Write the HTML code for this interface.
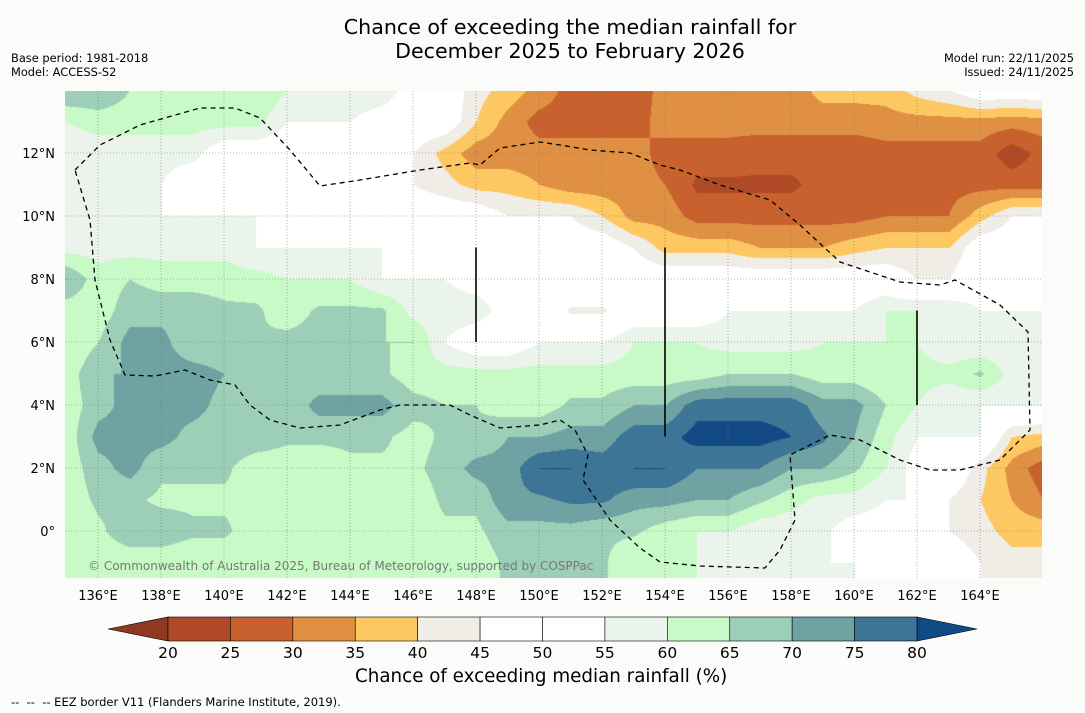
<!DOCTYPE html>
<html><head><meta charset="utf-8"><style>
body{margin:0;background:#fbfcfa;font-family:"DejaVu Sans",sans-serif;}
#wrap{position:relative;width:1085px;height:713px;overflow:hidden;background:#fbfcfa}
.t{position:absolute;color:#000;white-space:nowrap}
canvas{position:absolute;left:65px;top:91px}
svg{position:absolute;left:0;top:0}
</style></head><body>
<div id="wrap">
<div class="t" style="left:0;width:1140px;text-align:center;top:15px;font-size:20.6px;line-height:24px">Chance of exceeding the median rainfall for<br>December 2025 to February 2026</div>
<div class="t" style="left:11px;top:51px;font-size:11.4px;line-height:14px">Base period: 1981-2018<br>Model: ACCESS-S2</div>
<div class="t" style="right:11px;top:51px;font-size:11.4px;line-height:14px;text-align:right">Model run: 22/11/2025<br>Issued: 24/11/2025</div>
<canvas id="map" width="977" height="487"></canvas>
<svg id="ov" width="1085" height="713"></svg>
<div class="t" style="left:355px;top:666px;font-size:18.3px">Chance of exceeding median rainfall (%)</div>
<div class="t" style="left:11px;top:695px;font-size:11.5px">-- &nbsp;-- &nbsp;-- EEZ border V11 (Flanders Marine Institute, 2019).</div>
</div>
<script>
const lons=[135,136,137,138,139,140,141,142,143,144,145,146,147,148,149,150,151,152,153,154,155,156,157,158,159,160,161,162,163,164,165,166];
const lats=[14,13,12,11,10,9,8,7,6,5,4,3,2,1,0,-1,-2];
const grid=[
[70,70,65,65,65,65,65,60,60,60,60,50,50,42,38,33,28,27,27,32,32,32,32,32,37,37,37,42,45,50,50,50],
[60,62,62,62,62,62,62,55,55,55,50,50,50,40,33,28,28,28,28,32,32,32,32,32,32,32,33,33,33,33,32,33],
[57,57,57,57,57,50,50,50,50,50,50,45,38,32,32,32,32,32,32,28,28,28,27,27,27,27,28,28,28,28,22,27],
[55,55,55,55,50,50,50,50,50,50,50,45,42,38,38,35,32,32,32,30,24,24,24,24,27,27,27,28,28,28,28,28],
[55,55,55,55,55,55,55,52,52,52,50,50,50,50,45,45,45,40,33,33,28,28,28,28,28,28,30,30,30,38,45,45],
[58,58,58,58,58,58,55,55,55,55,55,50,50,50,50,50,50,50,45,38,38,38,35,35,35,38,40,40,40,50,50,50],
[70,62,65,63,63,63,62,60,60,60,55,55,55,52,52,52,52,52,50,50,50,50,50,50,50,50,50,45,45,52,52,52],
[62,62,68,68,68,66,66,62,66,66,66,58,58,58,52,52,44,44,50,50,50,55,55,55,55,55,60,60,60,55,55,55],
[60,65,72,72,65,65,65,67,67,67,65,65,55,50,50,55,55,55,60,60,60,58,58,58,60,60,60,60,55,55,55,55],
[62,70,70,73,73,70,66,66,66,66,66,62,62,62,62,62,62,62,62,62,62,65,65,65,62,62,60,62,62,66,58,58],
[62,68,72,72,72,68,68,66,72,72,72,67,65,65,62,62,66,66,70,70,78,78,78,78,72,72,65,60,55,55,55,55],
[62,72,72,72,68,68,68,66,66,66,66,63,66,66,70,70,72,72,78,78,82,82,82,80,76,70,62,55,55,55,40,38],
[62,68,72,66,66,66,62,62,62,64,64,64,67,72,72,80,80,78,80,80,75,75,75,70,70,66,60,52,52,42,33,27],
[62,66,66,64,64,64,64,62,62,62,62,62,66,66,74,74,76,76,72,72,70,70,66,62,58,58,55,55,45,40,35,30],
[60,64,68,68,66,66,62,62,62,62,62,62,64,64,68,68,68,66,66,62,60,60,56,56,56,52,52,52,45,42,38,38],
[62,62,62,62,61,61,61,61,60,60,60,62,62,62,66,66,66,66,60,60,60,55,55,55,55,55,50,50,50,45,42,42],
[62,62,62,62,61,61,61,61,60,60,60,62,62,62,66,66,66,66,60,60,60,55,55,55,55,55,50,50,50,45,42,42]];
const levels=[20,25,30,35,40,45,50,55,60,65,70,75,80];
const colors=["#8e3a22","#b04a26","#c8612e","#df9042","#fdc862","#f0ece6","#ffffff","#ffffff","#eaf4ea","#c8fac8","#9dcfb8","#6fa3a3","#3c7595","#124a85"];
const xTicks=[136,138,140,142,144,146,148,150,152,154,156,158,160,162,164];
const yTicks=[0,2,4,6,8,10,12];
const X=lon=>98+(lon-136)*31.5, Y=lat=>531-lat*31.5;
const cv=document.getElementById('map'),ctx=cv.getContext('2d');
const img=ctx.createImageData(977,487);
function hex(c){return[parseInt(c.substr(1,2),16),parseInt(c.substr(3,2),16),parseInt(c.substr(5,2),16)];}
const rgb=colors.map(hex);
for(let py=0;py<487;py++){
 const lat=(531-(py+91))/31.5;
 let fr=(lats[0]-lat);let r0=Math.max(0,Math.min(lats.length-2,Math.floor(fr)));let ty=Math.max(0,Math.min(1,fr-r0));
 for(let px=0;px<977;px++){
  const lon=136+((px+65)-98)/31.5;
  let fc=lon-lons[0];let c0=Math.max(0,Math.min(lons.length-2,Math.floor(fc)));let tx=Math.max(0,Math.min(1,fc-c0));
  const v=(grid[r0][c0]*(1-tx)+grid[r0][c0+1]*tx)*(1-ty)+(grid[r0+1][c0]*(1-tx)+grid[r0+1][c0+1]*tx)*ty;
  let i=0;while(i<levels.length&&v>=levels[i])i++;
  const c=rgb[i],k=(py*977+px)*4;img.data[k]=c[0];img.data[k+1]=c[1];img.data[k+2]=c[2];img.data[k+3]=255;
 }}
ctx.putImageData(img,0,0);
const ns="http://www.w3.org/2000/svg",svg=document.getElementById('ov');
function el(t,a){const e=document.createElementNS(ns,t);for(const k in a)e.setAttribute(k,a[k]);svg.appendChild(e);return e;}
xTicks.forEach(l=>{const g=el('line',{x1:X(l),x2:X(l),y1:91,y2:578,stroke:'#777','stroke-width':0.6,'stroke-dasharray':'1,2'});


const t=el('text',{x:X(l),y:600,'font-size':13,'text-anchor':'middle','font-family':'DejaVu Sans'});t.textContent=l+'°E';

});
yTicks.forEach(l=>{const g=el('line',{x1:65,x2:1042,y1:Y(l),y2:Y(l),stroke:'#777','stroke-width':0.6,'stroke-dasharray':'1,2'});


const t=el('text',{x:55,y:Y(l)+5,'font-size':13,'text-anchor':'end','font-family':'DejaVu Sans'});t.textContent=l===0?'0°':l+'°N';

});
const eez="75,170 100,145 140,125 200,108 235,108 260,118 290,150 320,186 360,180 420,170 470,163 480,165 500,148 540,142 560,145 590,150 630,153 660,165 680,170 720,185 770,200 800,225 840,262 900,282 940,285 955,280 1000,305 1028,332 1030,430 1000,460 960,470 930,470 900,460 860,440 830,435 790,455 795,520 780,550 765,568 700,566 660,562 640,548 610,520 583,480 588,455 575,430 560,420 540,425 500,428 470,415 450,405 420,405 400,405 380,410 340,425 300,428 270,420 250,405 235,385 210,380 185,370 155,376 125,375 110,340 95,280 90,220 75,170";
const p=el('polyline',{points:eez,fill:'none',stroke:'#000','stroke-width':1.3,'stroke-dasharray':'5,4'});


[[148,9,6],[154,9,3],[162,7,4]].forEach(s=>{const l=el('line',{x1:X(s[0]),x2:X(s[0]),y1:Y(s[1]),y2:Y(s[2]),stroke:'#000','stroke-width':1.6});

});
const cr=el('text',{x:88,y:570,'font-size':12,fill:'#777','font-family':'DejaVu Sans'});cr.textContent='© Commonwealth of Australia 2025, Bureau of Meteorology, supported by COSPPac';


const cbX=v=>168+(v-20)*(749/60);
const lt=el('polygon',{points:`108,629 168,617 168,641`,fill:colors[0],stroke:'#000','stroke-width':0.6});


const rt=el('polygon',{points:`977,629 917,617 917,641`,fill:colors[13],stroke:'#000','stroke-width':0.6});


for(let i=0;i<12;i++){const r=el('rect',{x:cbX(levels[i]),y:617,width:cbX(levels[i+1])-cbX(levels[i]),height:24,fill:colors[i+1],stroke:'#000','stroke-width':0.6});

}
levels.forEach(v=>{const t=el('text',{x:cbX(v),y:658,'font-size':15.5,'text-anchor':'middle','font-family':'DejaVu Sans'});t.textContent=v;

});
</script>
</body></html>
